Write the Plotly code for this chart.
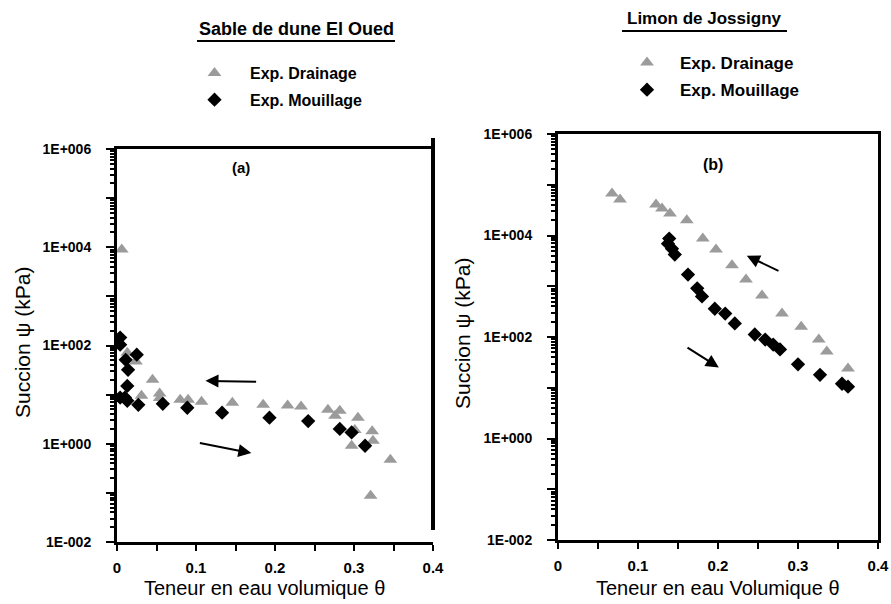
import plotly.graph_objects as go

# ---------------- data ----------------
# (a) Sable de dune El Oued
drain_a_theta = [0.006, 0.013, 0.024, 0.045, 0.031, 0.054, 0.054, 0.080, 0.090, 0.107, 0.146,
                 0.185, 0.216, 0.233, 0.267, 0.282, 0.276, 0.305, 0.301, 0.323, 0.324, 0.297,
                 0.346, 0.321]
drain_a_psi = [9000, 71, 47, 20, 9.5, 10.5, 8.5, 7.9, 7.9, 7.2, 6.8,
               6.2, 6.0, 5.7, 4.9, 4.7, 3.7, 3.4, 1.9, 1.8, 1.15, 0.91,
               0.47, 0.087]
wet_a_theta = [0.004, 0.004, 0.025, 0.011, 0.014, 0.013, 0.010, 0.004, 0.013, 0.027,
               0.058, 0.089, 0.133, 0.193, 0.242, 0.282, 0.297, 0.314]
wet_a_psi = [145, 104, 65, 51, 32, 15, 8.7, 8.7, 7.5, 6.2,
             6.5, 5.4, 4.3, 3.4, 2.9, 2.0, 1.7, 0.91]

# (b) Limon de Jossigny
drain_b_theta = [0.0675, 0.0775, 0.1225, 0.130, 0.140, 0.161, 0.181, 0.1975, 0.2175, 0.235,
                 0.255, 0.280, 0.304, 0.326, 0.336, 0.3625]
drain_b_psi = [67000, 51000, 41000, 34000, 27000, 20000, 8700, 5300, 2600, 1360,
               660, 290, 160, 89, 52, 24]
wet_b_theta = [0.139, 0.1375, 0.1425, 0.146, 0.1625, 0.174, 0.180, 0.196, 0.209, 0.221,
               0.246, 0.259, 0.269, 0.2775, 0.300, 0.3275, 0.355, 0.3625]
wet_b_psi = [8700, 6900, 5500, 4200, 1700, 910, 630, 360, 290, 185,
             112, 89, 71, 57, 29, 18, 12, 10.5]

x_tickvals = [0, 0.1, 0.2, 0.3, 0.4]
x_ticktext = ["0", "0.1", "0.2", "0.3", "0.4"]
y_tickvals = [1e-2, 1e-1, 1e0, 1e1, 1e2, 1e3, 1e4, 1e5, 1e6]
y_ticktext = ["1E-002", "", "1E+000", "", "1E+002", "", "1E+004", "", "1E+006"]

series_names = ["Exp. Drainage", "Exp. Mouillage"]

# ---------------- styling ----------------
GREY = "#9b9b9b"
SANS = "Liberation Sans, Arial, sans-serif"
W, H = 891, 604

fig = go.Figure()

fig.add_trace(go.Scatter(x=drain_a_theta, y=drain_a_psi, mode="markers", name=series_names[0],
                         marker=dict(symbol="triangle-up", size=12, color=GREY),
                         xaxis="x", yaxis="y", legend="legend", legendgroup="a1"))
fig.add_trace(go.Scatter(x=wet_a_theta, y=wet_a_psi, mode="markers", name=series_names[1],
                         marker=dict(symbol="diamond", size=11, color="black"),
                         xaxis="x", yaxis="y", legend="legend", legendgroup="a2"))
fig.add_trace(go.Scatter(x=drain_b_theta, y=drain_b_psi, mode="markers", name=series_names[0],
                         marker=dict(symbol="triangle-up", size=12, color=GREY),
                         xaxis="x2", yaxis="y2", legend="legend2", legendgroup="b1"))
fig.add_trace(go.Scatter(x=wet_b_theta, y=wet_b_psi, mode="markers", name=series_names[1],
                         marker=dict(symbol="diamond", size=11, color="black"),
                         xaxis="x2", yaxis="y2", legend="legend2", legendgroup="b2"))

minor_y = [m * 10 ** k for k in range(-2, 6) for m in range(2, 10)]

def xaxis_style(domain, anchor):
    return dict(domain=domain, anchor=anchor, range=[0, 0.4], showgrid=False, zeroline=False,
                automargin=False,
                showline=True, linecolor="black", linewidth=3, mirror=True,
                tickvals=x_tickvals, ticktext=x_ticktext, ticks="outside", ticklen=6,
                tickwidth=2, tickcolor="black", ticklabelstandoff=4,
                minor=dict(tickvals=[0.05, 0.15, 0.25, 0.35], ticks="outside", ticklen=6,
                           tickwidth=2, tickcolor="black"),
                tickfont=dict(family=SANS, size=15, color="black", weight="bold"))

def yaxis_style(domain, anchor, mirror):
    return dict(domain=domain, anchor=anchor, type="log", range=[-2, 6], showgrid=False,
                automargin=False,
                zeroline=False, showline=True, linecolor="black", linewidth=3, mirror=mirror,
                tickvals=y_tickvals, ticktext=y_ticktext, ticks="outside", ticklen=8,
                tickwidth=2, tickcolor="black", ticklabelstandoff=12,
                minor=dict(tickvals=minor_y, ticks="outside", ticklen=4, tickwidth=2,
                           tickcolor="black"),
                tickfont=dict(family=SANS, size=14, color="black", weight="bold"))

fig.update_layout(
    width=W, height=H, margin=dict(l=0, r=0, t=0, b=0, autoexpand=False),
    paper_bgcolor="white", plot_bgcolor="white",
    xaxis=xaxis_style([117 / W, 433 / W], "y"),
    yaxis=yaxis_style([1 - 542 / H, 1 - 149 / H], "x", False),
    xaxis2=xaxis_style([558 / W, 878 / W], "y2"),
    yaxis2=yaxis_style([1 - 540 / H, 1 - 134 / H], "x2", True),
    legend=dict(x=179 / W, y=1 - 56 / H, xanchor="left", yanchor="top", bgcolor="rgba(0,0,0,0)",
                font=dict(family=SANS, size=16, color="black", weight="bold"),
                itemwidth=61, tracegroupgap=3),
    legend2=dict(x=614 / W, y=1 - 45 / H, xanchor="left", yanchor="top", bgcolor="rgba(0,0,0,0)",
                 font=dict(family=SANS, size=17, color="black", weight="bold"),
                 itemwidth=56, tracegroupgap=2),
    showlegend=True,
)

# right border of panel (a): thick, not reaching the bottom axis
fig.add_shape(type="line", xref="x domain", yref="y domain", x0=1.0, x1=1.0,
              y0=12 / 393, y1=1 + 11 / 393, line=dict(color="black", width=4))

txt = dict(showarrow=False, xanchor="center", yanchor="middle", xref="paper", yref="paper")

# titles (underlined)
fig.add_annotation(text="Sable de dune El Oued", x=296 / W, y=1 - 29 / H,
                   font=dict(family=SANS, size=18, color="black", weight="bold"), **txt)
fig.add_shape(type="line", xref="paper", yref="paper", x0=197 / W, x1=395 / W,
              y0=1 - 41 / H, y1=1 - 41 / H, line=dict(color="black", width=2))
fig.add_annotation(text="Limon de Jossigny", x=704 / W, y=1 - 19 / H,
                   font=dict(family=SANS, size=17, color="black", weight="bold"), **txt)
fig.add_shape(type="line", xref="paper", yref="paper", x0=622 / W, x1=787 / W,
              y0=1 - 31 / H, y1=1 - 31 / H, line=dict(color="black", width=2))

# axis titles
fig.add_annotation(text="Teneur en eau volumique θ", x=264 / W, y=1 - 588 / H,
                   font=dict(family=SANS, size=20, color="black"), **txt)
fig.add_annotation(text="Teneur en eau Volumique θ", x=718 / W, y=1 - 588 / H,
                   font=dict(family=SANS, size=20, color="black"), **txt)
fig.add_annotation(text="Succion ψ (kPa)", x=22 / W, y=1 - 342 / H, textangle=-90,
                   font=dict(family=SANS, size=21, color="black"), **txt)
fig.add_annotation(text="Succion ψ (kPa)", x=462 / W, y=1 - 333 / H, textangle=-90,
                   font=dict(family=SANS, size=21, color="black"), **txt)

# panel labels
fig.add_annotation(text="(a)", xref="x", yref="y", x=0.157, y=5.62, showarrow=False,
                   font=dict(family=SANS, size=15, color="black", weight="bold"))
fig.add_annotation(text="(b)", xref="x2", yref="y2", x=0.194, y=5.40, showarrow=False,
                   font=dict(family=SANS, size=16, color="black", weight="bold"))

# arrows (log axes take log10 positions)
arrow = dict(showarrow=True, arrowhead=2, arrowsize=1.3, arrowwidth=2, arrowcolor="black", text="")
fig.add_annotation(xref="x", yref="y", axref="x", ayref="y", x=0.112, y=1.28, ax=0.178, ay=1.26, **arrow)
fig.add_annotation(xref="x", yref="y", axref="x", ayref="y", x=0.170, y=-0.19, ax=0.103, ay=0.02, **arrow)
fig.add_annotation(xref="x2", yref="y2", axref="x2", ayref="y2", x=0.236, y=3.60, ax=0.2775, ay=3.29, **arrow)
fig.add_annotation(xref="x2", yref="y2", axref="x2", ayref="y2", x=0.201, y=1.40, ax=0.160, ay=1.81, **arrow)

# remove the browser's default page margin so the figure fills the window exactly
fig.write_html("out.html", config={"displayModeBar": False},
               post_script="document.body.style.margin='0';")
